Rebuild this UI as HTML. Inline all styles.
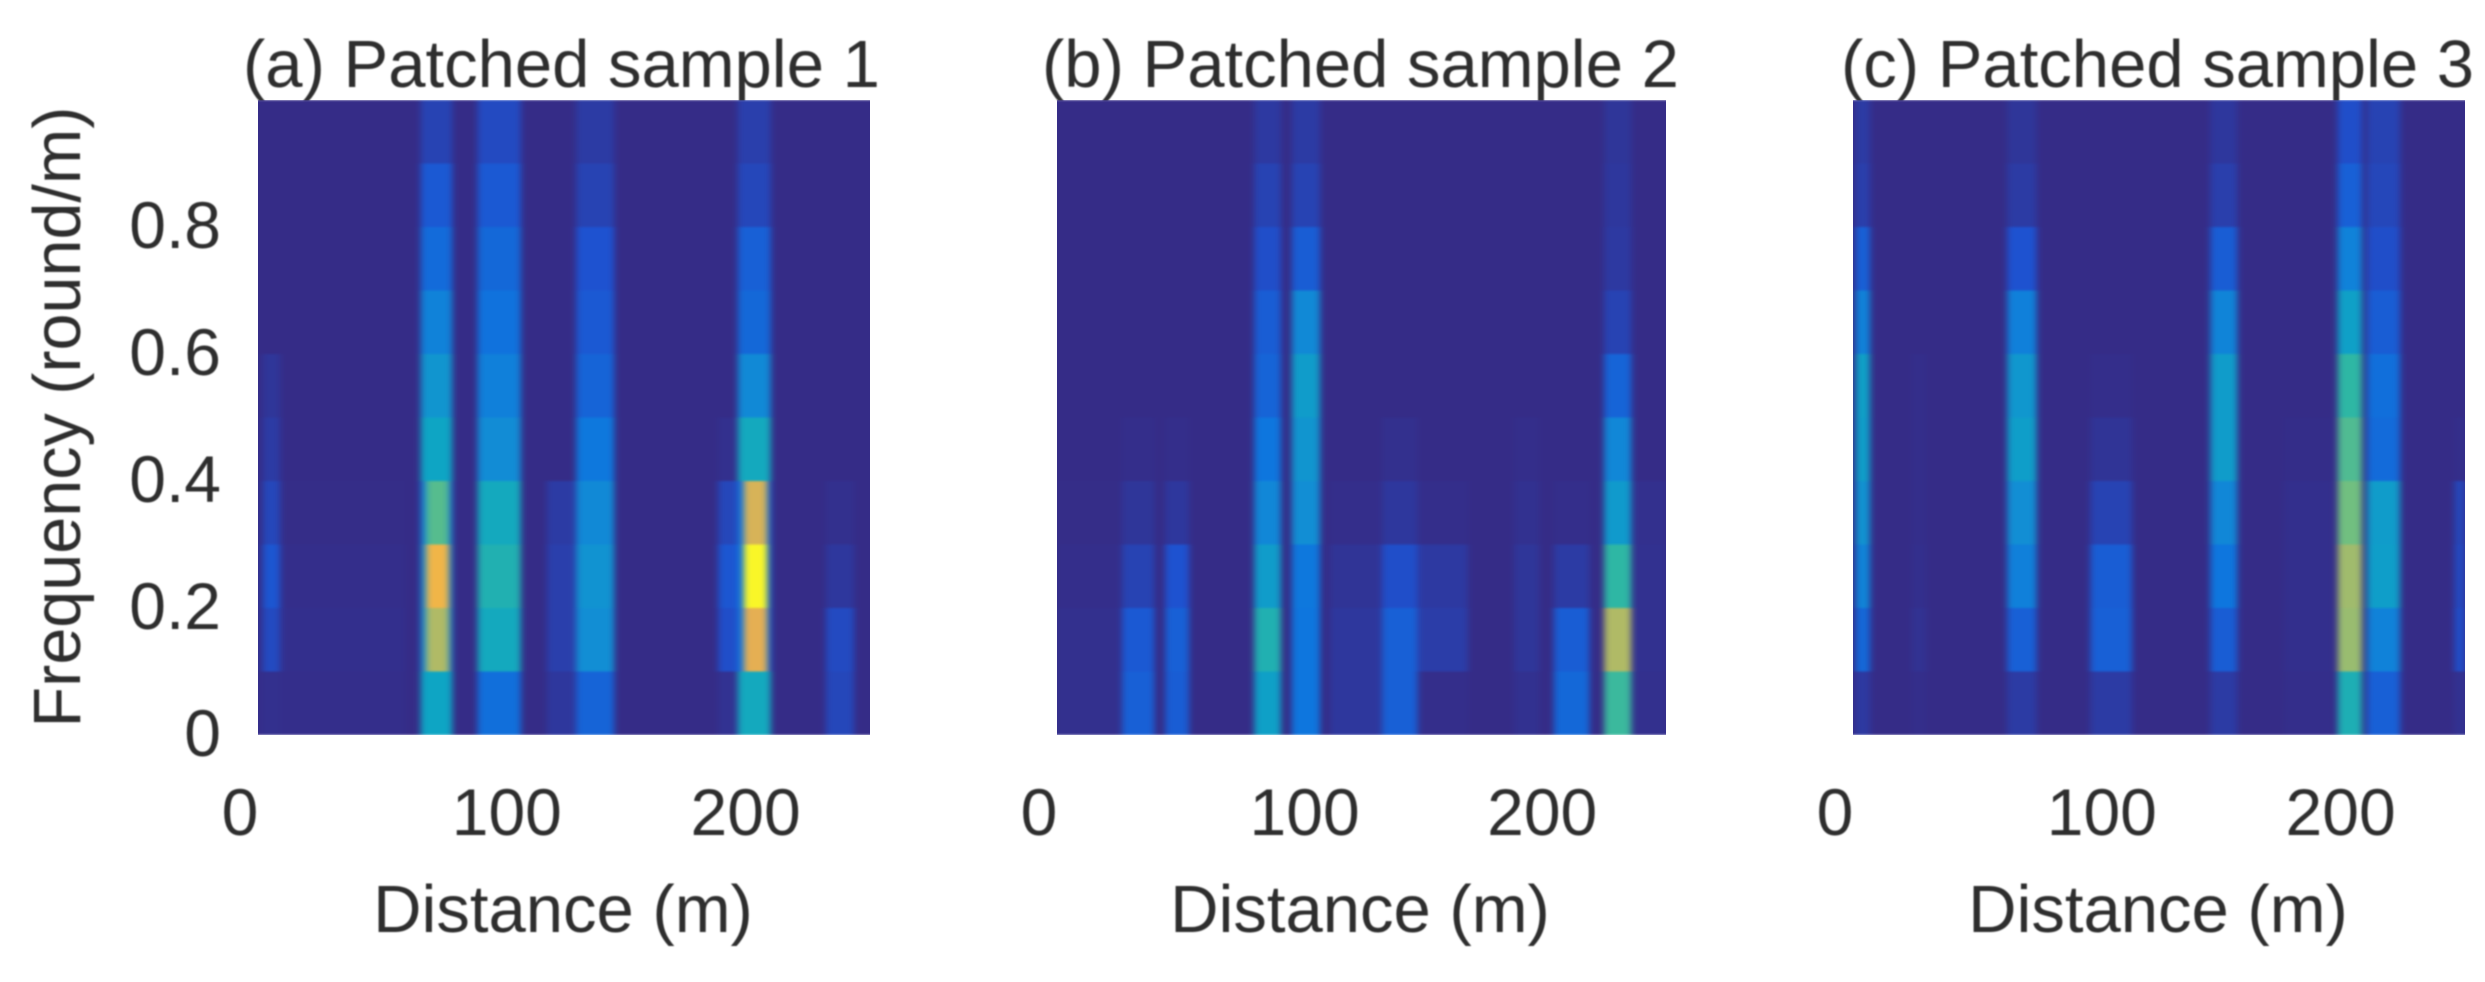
<!DOCTYPE html>
<html lang="en">
<head>
<meta charset="utf-8">
<title>Patched samples</title>
<style>
html,body{margin:0;padding:0;background:#fff;width:2485px;height:982px;overflow:hidden}
svg{display:block}
text{font-family:"Liberation Sans",sans-serif;fill:#2e2e2e;filter:url(#text-soft)}
</style>
</head>
<body>
<svg id="figure" xmlns="http://www.w3.org/2000/svg" width="2485" height="982" viewBox="0 0 2485 982">
<defs>
<filter id="soften" x="-5%" y="0" width="110%" height="100%" color-interpolation-filters="sRGB"><feGaussianBlur stdDeviation="3.2 0"/></filter>
<filter id="plot-soft" color-interpolation-filters="sRGB"><feGaussianBlur stdDeviation="1 1"/></filter>
<filter id="text-soft" color-interpolation-filters="sRGB"><feGaussianBlur stdDeviation="0.7"/></filter>
</defs>
<rect width="2485" height="982" fill="#fff"/>
<text font-size="66.5" text-anchor="middle" transform="translate(80,417) rotate(-90)">Frequency (round/m)</text>
<text x="243" y="87" font-size="67">(a) Patched sample 1</text>
<text x="1042" y="87" font-size="67">(b) Patched sample 2</text>
<text x="1841" y="87" font-size="67">(c) Patched sample 3</text>
<text x="563" y="932" font-size="67" text-anchor="middle">Distance (m)</text>
<text x="1360" y="932" font-size="67" text-anchor="middle">Distance (m)</text>
<text x="2158" y="932" font-size="67" text-anchor="middle">Distance (m)</text>
</svg>
<script>
const xTicks = [0, 100, 200];
const yTicks = [0, 0.2, 0.4, 0.6, 0.8];
const yTickLabels = ['0', '0.2', '0.4', '0.6', '0.8'];
const frequencyBins = [0, 0.1, 0.2, 0.3, 0.4, 0.5, 0.6, 0.7, 0.8, 0.9];

// Bands: distance start (m), distance end (m), intensity per frequency bin (low to high)
const panelAStart = [0, 2, 118, 188, 66.5, 68.7, 89.7, 130, 196, 198.5, 232];
const panelAEnd = [60, 9, 130, 196, 79.4, 78, 107.4, 145.5, 209.5, 208, 243.5];
const panelAValues = [
  [.006,.008,.006,.002,0,0,0,0,0,0],
  [.01,.08,.11,.07,.04,.025,0,0,0,0],
  [.03,.05,.05,.04,0,0,0,0,0,0],
  [.015,.09,.11,.07,.01,0,0,0,0,0],
  [.40,.3,.3,.25,.40,.33,.25,.17,.12,.06],
  [0,.68,.82,.56,0,0,0,0,0,0],
  [.18,.42,.46,.42,.29,.24,.19,.16,.12,.08],
  [.15,.3,.32,.28,.21,.15,.12,.1,.06,.04],
  [.42,.2,.2,.2,.42,.28,.16,.14,.07,.05],
  [0,.78,1,.75,0,0,0,0,0,0],
  [.07,.08,.03,.01,0,0,0,0,0,0]
];

const panelBStart = [0, 112, 187.6, 26.7, 44.4, 81, 96.4, 148, 133.4, 204, 224.6, 236];
const panelBEnd = [26, 133, 198, 40, 54.2, 92, 108, 168.7, 148, 218.6, 235.8, 250];
const panelBValues = [
  [.01,.01,.006,.002,0,0,0,0,0,0],
  [.03,.03,.02,.005,0,0,0,0,0,0],
  [.012,.025,.025,.012,.005,0,0,0,0,0],
  [.14,.12,.06,.025,.005,0,0,0,0,0],
  [.13,.14,.1,.03,.005,0,0,0,0,0],
  [.38,.46,.36,.27,.2,.15,.13,.09,.06,.035],
  [.2,.2,.21,.3,.33,.36,.28,.13,.06,.04],
  [.006,.045,.035,.006,0,0,0,0,0,0],
  [.14,.14,.09,.03,.01,0,0,0,0,0],
  [.16,.13,.04,.005,0,0,0,0,0,0],
  [.52,.68,.5,.35,.27,.15,.06,.035,.03,.025],
  [.01,.012,.012,.01,0,0,0,0,0,0]
];

const panelCStart = [1, 24, 63, 97, 146, 198, 210, 245.7, 176];
const panelCEnd = [7, 30, 75, 114, 157, 208, 223.5, 250, 196];
const panelCValues = [
  [.035,.16,.26,.32,.37,.38,.25,.14,.05,.04],
  [.005,.015,.008,.005,.005,.005,0,0,0,0],
  [.04,.14,.24,.3,.37,.34,.24,.1,.04,.025],
  [.04,.14,.13,.06,.02,.006,0,0,0,0],
  [.04,.13,.2,.27,.36,.36,.26,.13,.05,.03],
  [.45,.65,.66,.6,.55,.5,.38,.25,.14,.09],
  [.14,.25,.37,.36,.17,.18,.13,.09,.07,.06],
  [.015,.09,.08,.07,.006,0,0,0,0,0],
  [.005,.008,.008,.008,.003,0,0,0,0,0]
];

const colormap = [[53,44,135],[30,82,208],[14,118,222],[18,142,212],[14,165,196],[46,183,164],[113,191,128],[192,185,96],[238,172,80],[247,216,38],[249,246,40]];
const NS = 'http://www.w3.org/2000/svg';
const svg = document.getElementById('figure');
const plotTop = 100, plotBottom = 735, xMax = 250;

function color(v) {
  const t = Math.max(0, Math.min(1, v)) * (colormap.length - 1);
  const i = Math.min(colormap.length - 2, Math.floor(t));
  const f = t - i;
  const c = colormap[i].map((a, k) => Math.round(a + (colormap[i + 1][k] - a) * f));
  return 'rgb(' + c.join(',') + ')';
}
function yScale(f) { return plotBottom - f * (plotBottom - plotTop); }
function el(tag, attrs, parent) {
  const e = document.createElementNS(NS, tag);
  for (const k in attrs) e.setAttribute(k, attrs[k]);
  parent.appendChild(e);
  return e;
}

function drawPanel(id, left, width, starts, ends, values) {
  const xScale = d => left + d / xMax * width;
  const clip = el('clipPath', { id: 'clip-' + id }, svg);
  el('rect', { x: left, y: plotTop, width: width, height: plotBottom - plotTop }, clip);
  const plot = el('g', { 'clip-path': 'url(#clip-' + id + ')', filter: 'url(#plot-soft)' }, svg);
  
  
  frequencyBins.forEach((f, r) => {
    const y1 = yScale(f + 0.1), y0 = yScale(f);
    const row = el('g', { filter: 'url(#soften)' }, plot);
    
    
    const base = el('rect', { x: left - 30, y: y1, width: width + 60, height: y0 - y1, fill: color(0) }, row);
    
    
    values.forEach((band, b) => {
      if (!band[r]) return;
      const cell = el('rect', { x: xScale(starts[b]), y: y1, width: xScale(ends[b]) - xScale(starts[b]), height: y0 - y1, fill: color(band[r]) }, row);
      
      
    });
  });
  xTicks.forEach(v => {
    const nudge = v === 0 ? -18 : (v === 200 ? -2 : 4);
    const t = el('text', { x: xScale(v) + nudge, y: 835, 'font-size': 66, 'text-anchor': 'middle' }, svg);
    
    
    t.textContent = String(v);
  });
}

drawPanel('a', 258, 612, panelAStart, panelAEnd, panelAValues);
drawPanel('b', 1057, 609, panelBStart, panelBEnd, panelBValues);
drawPanel('c', 1853, 612, panelCStart, panelCEnd, panelCValues);

yTicks.forEach((v, i) => {
  const t = el('text', { x: 221, y: yScale(v) + 21, 'font-size': 66, 'text-anchor': 'end' }, svg);
  
  
  t.textContent = yTickLabels[i];
});
</script>
</body>
</html>
